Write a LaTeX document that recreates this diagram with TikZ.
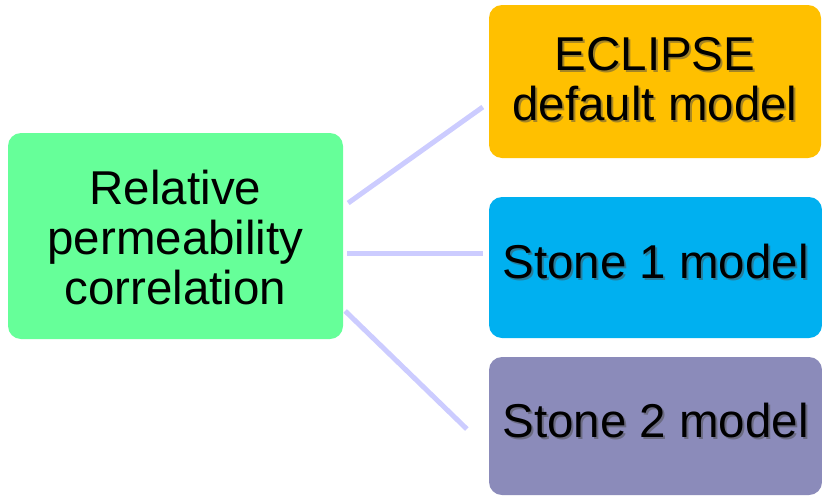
\documentclass[tikz,border=0pt]{standalone}
\usepackage{fontspec}
\setmainfont{Liberation Sans}
\definecolor{relgreen}{HTML}{66FF99}
\definecolor{eclorange}{HTML}{FFC000}
\definecolor{stblue}{HTML}{00B0F0}
\definecolor{stpurple}{HTML}{8B8BBA}
\definecolor{connlav}{HTML}{CCCCFF}
\begin{document}
\begin{tikzpicture}[x=1pt,y=-1pt,
  box/.style={draw=none,rounded corners=13pt,inner sep=0pt},
  txt/.style={inner sep=0pt,align=center,text=black,font=\fontsize{47.5}{50}\selectfont},
  shadowtxt/.style={txt,text=black!70,opacity=0.5},
  conn/.style={draw=connlav,line width=5pt}]
\useasboundingbox (0,0) rectangle (822,496);
% boxes
\node[box,fill=relgreen,minimum width=335pt,minimum height=206pt] (rel) at (175.5,236) {};
\node[box,fill=eclorange,minimum width=332pt,minimum height=153pt] (ecl) at (655,81.5) {};
\node[box,fill=stblue,minimum width=333pt,minimum height=141pt] (st1) at (655.5,267.5) {};
\node[box,fill=stpurple,minimum width=333pt,minimum height=138pt] (st2) at (655.5,426) {};
% texts
\node[txt] (relt) at ([yshift=-2pt]rel.center) {Relative\\permeability\\correlation};
\node[shadowtxt] at ([shift={(2,-0.5)}]ecl.center) {ECLIPSE\\default model};
\node[txt] (eclt) at ([shift={(0,-2.5)}]ecl.center) {ECLIPSE\\default model};
\node[shadowtxt] at ([shift={(2,-4)}]st1.center) {Stone 1 model};
\node[txt] (st1t) at ([shift={(0,-6)}]st1.center) {Stone 1 model};
\node[shadowtxt] at ([shift={(2,-3)}]st2.center) {Stone 2 model};
\node[txt] (st2t) at ([shift={(0,-5)}]st2.center) {Stone 2 model};
% connectors
\draw[conn] ([shift={(5,-33)}]rel.east) -- ([shift={(-6,25.5)}]ecl.west);
\draw[conn] ([shift={(4,17)}]rel.east) -- ([shift={(-6,-14.5)}]st1.west);
\draw[conn] ([shift={(2,75)}]rel.east) -- ([shift={(-22,3)}]st2.west);
\end{tikzpicture}
\end{document}
